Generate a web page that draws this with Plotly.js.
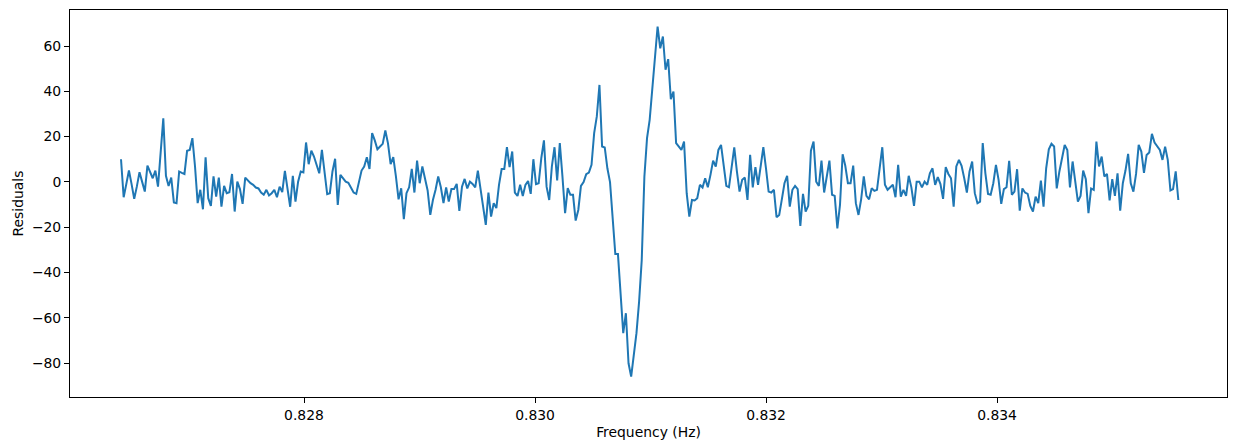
<!DOCTYPE html>
<html><head><meta charset="utf-8">
<script src="https://cdn.plot.ly/plotly-3.0.1.min.js"></script>
<style>html,body{margin:0;padding:0;background:#fff}</style>
</head><body>
<div id="chart" style="width:1241px;height:448px"></div>
<script>
// Frequency grid (Hz): first bin and bin spacing
const freqStart = 0.8264156;
const freqStep = 0.0000228853;

// Residual values, one per frequency bin
const residuals = [
  10.0, -6.8, -1.0, 5.0, -1.0, -7.5, -2.0, 4.3, 0.0, -4.3, 7.2, 4.5, 1.6, 5.0, -2.1, 13.0, 28.1, 2.7, -1.8, 1.9,
  -9.1, -9.4, 4.6, 4.0, 3.5, 13.7, 14.1, 19.3, 6.8, -9.4, -3.5, -12.1, 10.9, -7.2, -10.6, 2.4,
  -6.5, 1.9, -10.9, -1.8, -5.0, -4.6, 3.5, -13.1, 0.1, -3.2, -9.7, 1.9, 0.4, -0.6, -1.3, -2.5, -2.9, -4.7, -5.7, -3.5,
  -6.0, -5.0, -3.5, -6.8, -2.1, -4.5, 4.9, -3.5, -11.0, 2.7, -8.7, 0.1, 4.6, 4.2, 17.4, 7.8,
  13.8, 11.2, 7.5, 3.8, 14.1, 3.0, -5.4, -5.0, 4.6, 10.2, -10.2, 3.1, 1.6, 0.1, -0.4, -2.4, -4.7, -5.3, -0.4, 5.0,
  6.8, 10.9, 5.7, 21.5, 18.3, 14.4, 15.6, 16.8, 22.7, 17.0, 7.8, 10.9, 2.4, -7.7, -2.8, -16.5,
  -5.0, -2.4, 5.7, -4.7, 9.4, -0.6, 6.8, 0.9, -3.8, -14.6, -8.0, -3.5, 2.4, -2.4, -9.4, -2.4, -8.7, -3.2, -3.2, -0.9,
  -12.8, -2.1, 1.3, -2.9, 0.1, -0.9, -2.4, 5.0, -2.9, -10.6, -19.0, -4.7, -15.3, -9.4, -11.6, -1.3,
  5.7, 5.7, 15.3, 6.5, 13.4, -4.7, -6.2, -1.3, -6.2, -1.3, 0.4, -5.3, 10.0, -1.0, -0.6, 10.5, 18.3, -2.1, -8.0, 6.8,
  15.3, 0.6, 17.1, 2.4, -13.8, -2.8, -5.7, -5.7, -17.1, -12.4, -1.8, -0.1, 3.4, 4.1, 7.5, 21.5,
  28.9, 42.8, 15.6, 15.2, 6.0, -0.1, -16.0, -31.9, -31.9, -49.2, -66.8, -58.0, -80.1, -86.0, -75.7, -66.8, -52.9, -34.5, 2.4, 19.3,
  27.4, 42.1, 53.9, 68.6, 59.0, 64.2, 49.5, 54.2, 36.5, 39.9, 17.1, 15.6, 14.1, 17.8, -5.0, -15.3, -8.0, -8.2, -7.2, -1.3,
  -2.5, 1.6, -2.4, 3.1, 9.4, 6.8, 14.1, 16.3, 6.0, -1.8, -2.4, 6.8, 15.2, 4.6, -4.3, 0.9, 1.9, -8.0, 11.9, -2.4,
  6.5, -1.3, 7.5, 15.3, 6.0, -4.3, -4.7, -3.5, -15.6, -14.6, -7.7, -0.6, 2.7, -10.9,
  -3.5, -1.8, -3.2, -19.4, -5.3, -13.1, -10.6, 13.8, 17.8, 0.1, -1.8, 9.4, -4.7, 2.4, 9.4, -5.7, -6.2, -20.5, -10.2, 12.2,
  7.1, -0.6, -0.6, 7.2, -9.4, -14.6, -7.7, 2.4, -6.2, -7.7, -2.8, -4.0, -3.5, 6.0, 15.3,
  -1.3, -3.5, -2.4, -1.3, -6.8, 7.5, -6.5, -3.5, -6.2, 2.7, -2.4, -10.6, 0.1, 0.1, -2.4, 0.1, -1.3, 3.8, 6.0, -1.3,
  2.1, -1.0, -7.5, 6.5, 3.5, 1.6, -10.9, 6.8, 9.7, 7.1, 1.6, -4.7, 4.6, 9.0, -5.0, -9.4,
  -8.7, 17.1, 3.8, -5.3, -5.7, -0.6, 7.5, 0.9, -9.7, -3.2, -2.4, 9.3, -5.7, -4.3, 5.6, -12.7, -2.9, -4.7, -5.3, -10.6,
  -13.1, -6.5, -9.4, 0.6, -10.9, 6.0, 14.4, 16.8, 15.6, -2.9, 4.6, 11.2, 16.3, 14.1, -2.4, 9.0,
  0.5, -8.7, -6.2, 5.0, 1.2, -13.8, -2.9, -3.5, 17.8, 6.8, 11.2, 2.4, 3.5, -8.2, 1.2, -6.2, 3.8, -12.7, -0.6, 5.0,
  12.4, -0.6, -4.3, 3.5, 16.3, 13.4, 4.0, 11.9, 13.0, 21.2, 17.4, 15.9, 14.1, 9.7, 15.5, 9.7, -3.8, -3.2, 4.6, -8.0
];

// Tick labels
const xTickVals = [0.828, 0.830, 0.832, 0.834];
const xTickText = ['0.828', '0.830', '0.832', '0.834'];
const yTickVals = [-80, -60, -40, -20, 0, 20, 40, 60];

const font = {family: 'DejaVu Sans, sans-serif', size: 13.9, color: '#000'};

const trace = {
  type: 'scatter',
  mode: 'lines',
  x0: freqStart,
  dx: freqStep,
  y: residuals,
  line: {color: '#1f77b4', width: 2},
  hoverinfo: 'skip'
};

const axisCommon = {
  showline: true, linecolor: '#000', linewidth: 1, mirror: true,
  ticks: 'outside', ticklen: 5, tickwidth: 1, tickcolor: '#000',
  showgrid: false, zeroline: false,
  tickfont: font
};

const layout = {
  width: 1241, height: 448,
  margin: {l: 70, r: 14, t: 10, b: 51},
  paper_bgcolor: '#fff', plot_bgcolor: '#fff',
  font: font,
  showlegend: false,
  xaxis: Object.assign({}, axisCommon, {
    range: [0.825974, 0.835991],
    tickvals: xTickVals, ticktext: xTickText,
    title: {text: 'Frequency (Hz)', font: font, standoff: 5}
  }),
  yaxis: Object.assign({}, axisCommon, {
    range: [-95.0, 75.9],
    tickvals: yTickVals,
    title: {text: 'Residuals', font: font, standoff: 5}
  })
};

Plotly.newPlot('chart', [trace], layout, {displayModeBar: false, staticPlot: true});
</script>
</body></html>
